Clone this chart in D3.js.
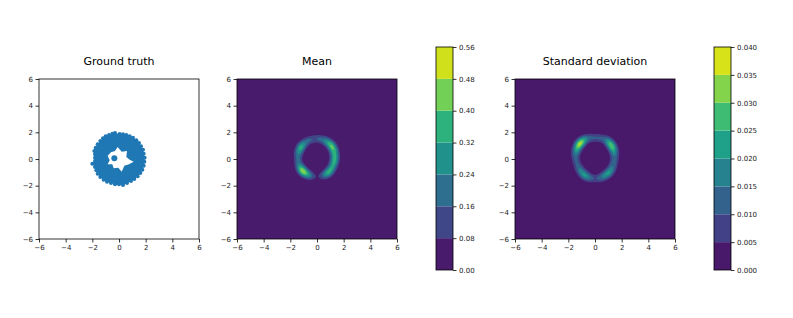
<!DOCTYPE html>
<html>
<head>
<meta charset="utf-8">
<script src="https://cdn.jsdelivr.net/npm/d3@7"></script>
<style>
body { margin:0; background:#fff; }
text { font-family: "DejaVu Sans", sans-serif; }
</style>
</head>
<body>
<div class="canvas"></div>
<script>
// ticks
const axisTicks = [-6, -4, -2, 0, 2, 4, 6];
const meanLevels = [0, 0.08, 0.16, 0.24, 0.32, 0.40, 0.48, 0.56];
const stdLevels = [0, 0.005, 0.010, 0.015, 0.020, 0.025, 0.030, 0.035, 0.040];
const titles = ['Ground truth', 'Mean', 'Standard deviation'];

// ground truth scatter outline (data coords)
const truthOuter = [[-0.3,1.95],[0.05,1.88],[0.3,1.85],[0.55,1.8],[0.8,1.7],[1.05,1.6],[1.3,1.4],[1.5,1.2],
  [1.65,0.95],[1.8,0.7],[1.85,0.4],[1.92,0.1],[1.9,-0.2],[1.85,-0.5],[1.75,-0.8],[1.6,-1.05],
  [1.4,-1.3],[1.15,-1.5],[0.9,-1.65],[0.6,-1.8],[0.3,-1.95],[0.0,-1.9],[-0.3,-1.9],[-0.6,-1.8],
  [-0.9,-1.7],[-1.15,-1.55],[-1.4,-1.35],[-1.6,-1.1],[-1.7,-0.85],[-1.8,-0.6],[-2.0,-0.35],[-1.8,-0.15],
  [-1.8,0.1],[-1.8,0.35],[-1.85,0.6],[-1.75,0.85],[-1.6,1.1],[-1.4,1.35],[-1.2,1.55],[-1.0,1.7],
  [-0.75,1.8],[-0.5,1.9]];
const truthHole = [[-0.6,0.5],[-0.3,0.6],[-0.1,0.9],[0.2,0.55],[0.6,0.6],[0.55,0.15],[0.8,-0.05],
  [1.1,-0.2],[0.75,-0.4],[0.4,-0.5],[0.2,-0.95],[-0.05,-0.65],[-0.4,-0.7],[-0.5,-0.4],[-0.85,-0.4],
  [-0.7,-0.1],[-0.85,0.25]];
const truthDots = [[-0.35,0.05]];

// ring bumps: [angle deg, radius, value]
const meanCenter = [-0.03, 0.07];
const meanBumps = [[0,1.35,0.30],[20,1.4,0.38],[40,1.45,0.46],[60,1.45,0.28],[80,1.45,0.17],[100,1.45,0.15],
  [120,1.45,0.20],[143,1.43,0.42],[163,1.4,0.26],[183,1.4,0.16],[203,1.4,0.22],[222,1.42,0.56],
  [240,1.4,0.30],[255,1.4,0.12],[290,1.4,0.15],[307,1.4,0.36],[325,1.35,0.30],[345,1.35,0.28]];
const stdCenter = [0, 0.07];
const stdBumps = [[0,1.45,0.012],[20,1.5,0.022],[38,1.55,0.034],[55,1.6,0.018],[75,1.55,0.010],[90,1.5,0.008],
  [105,1.55,0.010],[122,1.6,0.022],[138,1.56,0.042],[158,1.5,0.024],[180,1.45,0.012],[200,1.4,0.010],
  [220,1.42,0.018],[240,1.5,0.025],[258,1.55,0.012],[282,1.55,0.012],[300,1.5,0.020],[318,1.5,0.023],[340,1.45,0.015]];

const svg = d3.select('.canvas')
  .append('svg')
    .attr('width', 793)
    .attr('height', 318);

const size = 160;
const panels = [39, 237, 515];
const panelTop = 79;

const x = d3.scaleLinear().domain([-6, 6]).range([0, size]);
const y = d3.scaleLinear().domain([-6, 6]).range([size, 0]);
const fmt = d => d < 0 ? '\u2212' + Math.abs(d) : '' + d;

// build field from bumps
const n = 160;
const field = (bumps, center, sr, st, norm) => {
  const vals = new Float64Array(n * n);
  for (let j = 0; j < n; j++) {
    for (let i = 0; i < n; i++) {
      const px = -6 + (i + 0.5) * 12 / n;
      const py = 6 - (j + 0.5) * 12 / n;
      let s = 0;
      bumps.forEach(b => {
        const a = b[0] * Math.PI / 180;
        const c = Math.cos(a), sn = Math.sin(a);
        const dx = px - (center[0] + b[1] * c);
        const dy = py - (center[1] + b[1] * sn);
        const dr = dx * c + dy * sn;
        const dt = -dx * sn + dy * c;
        s += b[2] * Math.exp(-dr * dr / (2 * sr * sr) - dt * dt / (2 * st * st));
      });
      vals[j * n + i] = s / norm;
    }
  }
  return vals;
};

const drawAxes = (g) => {
  g.append('rect').attr('width', size).attr('height', size)
    .attr('fill', 'none').attr('stroke', '#000').attr('stroke-width', 0.8);
  const xa = g.append('g').attr('transform', `translate(0,${size})`)
    .call(d3.axisBottom(x).tickValues(axisTicks).tickFormat(fmt).tickSize(3.5).tickPadding(2.5));
  const ya = g.append('g')
    .call(d3.axisLeft(y).tickValues(axisTicks).tickFormat(fmt).tickSize(3.5).tickPadding(2.5));
  [xa, ya].forEach(a => {
    a.select('.domain').remove();
    a.selectAll('line').attr('stroke', '#000').attr('stroke-width', 0.8);
    a.selectAll('text').attr('fill', '#222').style('font-size', '7px').style('font-family', 'DejaVu Sans');
  });
};

// ground truth
const g0 = svg.append('g').attr('transform', `translate(${panels[0]},${panelTop})`);
const ring = d3.line().x(d => x(d[0])).y(d => y(d[1])).curve(d3.curveLinearClosed);
g0.append('path')
  .attr('d', ring(truthOuter) + ring(truthHole))
  .attr('fill', '#1f77b4').attr('fill-rule', 'evenodd');
g0.selectAll('circle.o').data(truthOuter.concat(truthDots)).enter()
  .append('circle')
  .attr('cx', d => x(d[0])).attr('cy', d => y(d[1])).attr('r', (d, i) => i < truthOuter.length ? 2 : 3)
  .attr('fill', '#1f77b4');
drawAxes(g0);

// contour panels
const drawField = (px, bumps, center, levels, norm) => {
  const g = svg.append('g').attr('transform', `translate(${px},${panelTop})`);
  const vmax = levels[levels.length - 1];
  const color = i => d3.interpolateViridis(((levels[i] + levels[i + 1]) / 2) / vmax);
  const vals = field(bumps, center, 0.23, 0.3, norm);
  const contours = d3.contours().size([n, n]).thresholds(levels.slice(0, -1))(vals);
  const path = d3.geoPath(d3.geoIdentity().scale(size / n));
  g.selectAll('path').data(contours).enter()
    .append('path')
    .attr('d', path)
    .attr('fill', (d, i) => color(i));
  drawAxes(g);
  return color;
};

const meanColor = drawField(panels[1], meanBumps, meanCenter, meanLevels, 1.5);
const stdColor = drawField(panels[2], stdBumps, stdCenter, stdLevels, 1.5);

// colorbars
const drawBar = (bx, levels, color, f) => {
  const cbTop = 47, cbH = 223, cbW = 17;
  const cy = d3.scaleLinear().domain([levels[0], levels[levels.length - 1]]).range([cbH, 0]);
  const g = svg.append('g').attr('transform', `translate(${bx},${cbTop})`);
  g.selectAll('rect.band').data(levels.slice(0, -1)).enter()
    .append('rect')
    .attr('x', 0).attr('width', cbW)
    .attr('y', (d, i) => cy(levels[i + 1]))
    .attr('height', (d, i) => cy(levels[i]) - cy(levels[i + 1]))
    .attr('fill', (d, i) => color(i));
  g.append('rect').attr('width', cbW).attr('height', cbH)
    .attr('fill', 'none').attr('stroke', '#000').attr('stroke-width', 0.8);
  const a = g.append('g').attr('transform', `translate(${cbW},0)`)
    .call(d3.axisRight(cy).tickValues(levels).tickFormat(d3.format(f)).tickSize(3.5).tickPadding(2.5));
  a.select('.domain').remove();
  a.selectAll('line').attr('stroke', '#000').attr('stroke-width', 0.8);
  a.selectAll('text').attr('fill', '#222').style('font-size', '7px').style('font-family', 'DejaVu Sans');
};
drawBar(436, meanLevels, meanColor, '.2f');
drawBar(714, stdLevels, stdColor, '.3f');

// titles
svg.selectAll('text.title').data(titles).enter()
  .append('text')
  .attr('x', (d, i) => panels[i] + size / 2)
  .attr('y', 65)
  .attr('text-anchor', 'middle')
  .style('font-size', '11px')
  .attr('fill', '#000')
  .text(d => d);
</script>
</body>
</html>
